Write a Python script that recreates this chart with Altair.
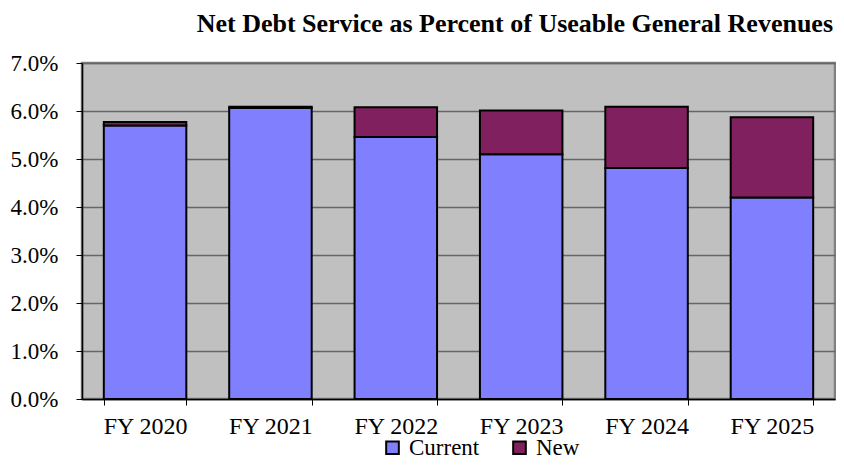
import altair as alt
import pandas as pd

years = ["FY 2020", "FY 2021", "FY 2022", "FY 2023", "FY 2024", "FY 2025"]
current = [0.0570, 0.0606, 0.0546, 0.0510, 0.0481, 0.0420]
new = [0.0007, 0.0003, 0.0062, 0.0091, 0.0128, 0.0167]
series = ["Current", "New"]
colors = ["#8080FF", "#80205F"]
y_ticks = [0.0, 0.01, 0.02, 0.03, 0.04, 0.05, 0.06, 0.07]

rows = []
for i, yr in enumerate(years):
    rows.append({"year": yr, "series": "Current", "value": current[i], "ord": 0})
    rows.append({"year": yr, "series": "New", "value": new[i], "ord": 1})
df = pd.DataFrame(rows)

FONT = "Liberation Serif"

chart = alt.Chart(df).mark_bar(stroke="black", strokeWidth=2).encode(
    x=alt.X("year:N", sort=years, title=None,
            scale=alt.Scale(paddingInner=0.342, paddingOuter=0.174),
            axis=alt.Axis(labelAngle=0, tickBand="extent", tickSize=6,
                          tickColor="black", domainColor="black", domainWidth=1.5,
                          labelFont=FONT, labelFontSize=24, labelColor="black",
                          labelPadding=9, grid=False)),
    y=alt.Y("value:Q", stack="zero", title=None,
            scale=alt.Scale(domain=[0, 0.07], nice=False),
            axis=alt.Axis(values=y_ticks, format=".1%", tickSize=6,
                          tickColor="black", domainColor="black", domainWidth=1.5,
                          labelFont=FONT, labelFontSize=23, labelColor="black",
                          labelPadding=18, grid=True, gridColor="#666666", gridWidth=1.5)),
    color=alt.Color("series:N", scale=alt.Scale(domain=series, range=colors),
                    legend=alt.Legend(title=None, orient="none", direction="horizontal",
                                      legendX=299, legendY=373,
                                      symbolType="square", symbolSize=160,
                                      symbolStrokeColor="black", symbolStrokeWidth=2,
                                      symbolOpacity=1,
                                      labelFont=FONT, labelFontSize=23, labelColor="black",
                                      columnPadding=28, labelOffset=5)),
    order=alt.Order("ord:Q"),
).properties(
    width=753,
    height=336,
    title=alt.TitleParams("Net Debt Service as Percent of Useable General Revenues",
                          font=FONT, fontSize=26, fontWeight="bold", color="black",
                          anchor="end", offset=15, dx=-2),
    autosize=alt.AutoSizeParams(type="none"),
    padding={"left": 74, "top": 55, "right": 1, "bottom": 61},
).configure_view(
    fill="#C0C0C0", stroke="#808080", strokeWidth=2.5
)

chart.save("out.html", embed_options={"renderer": "svg", "actions": False})
